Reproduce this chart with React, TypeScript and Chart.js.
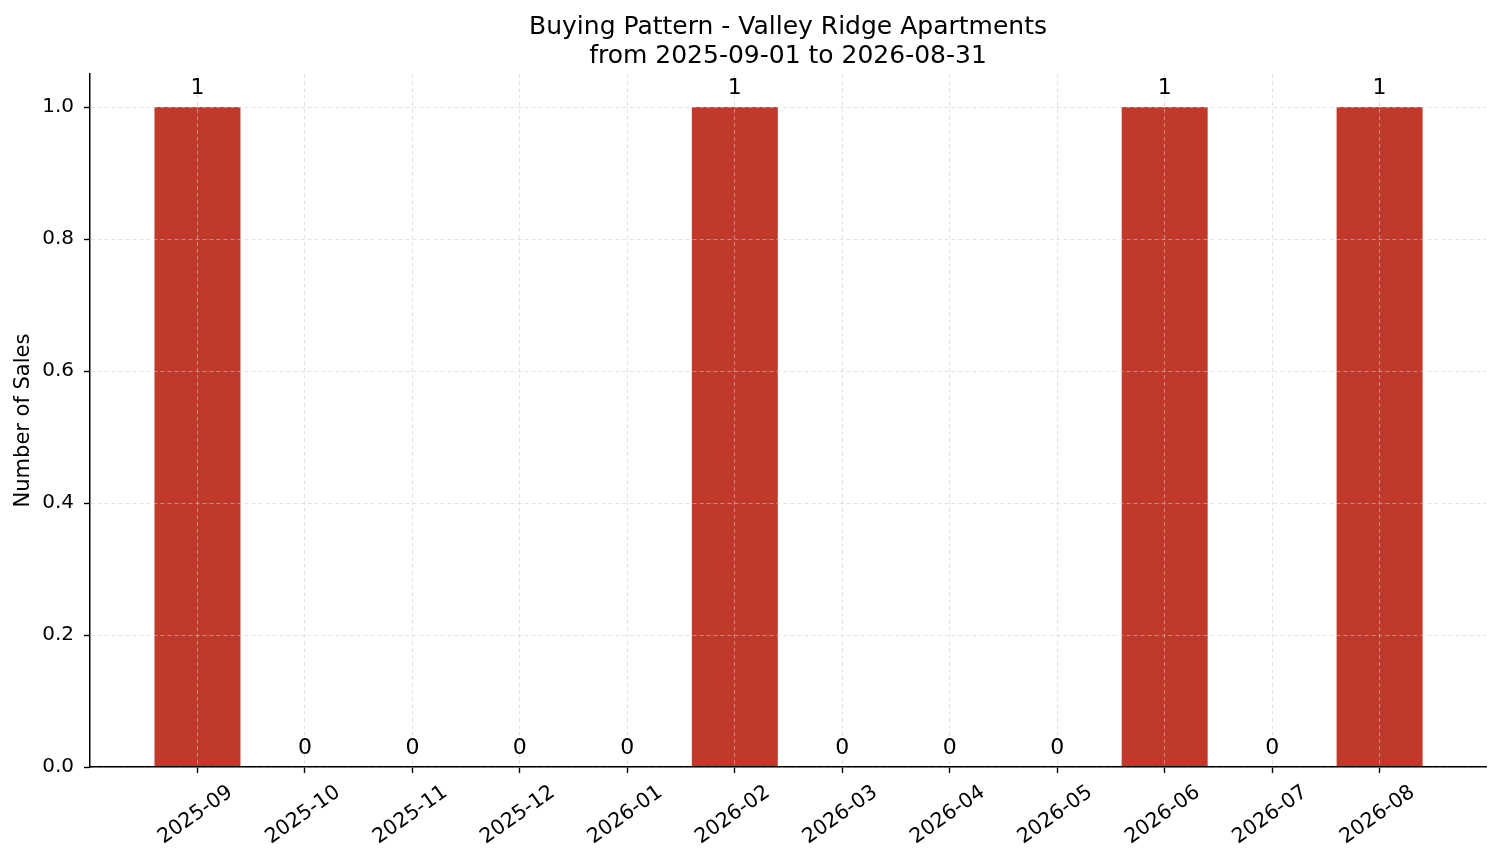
import React, { useEffect, useRef } from 'react'
import { Chart, registerables } from 'chart.js'

Chart.register(...registerables)

// chart data
const months = [
    '2025-09', '2025-10', '2025-11', '2025-12', '2026-01', '2026-02',
    '2026-03', '2026-04', '2026-05', '2026-06', '2026-07', '2026-08',
]
const sales = [1, 0, 0, 0, 0, 1, 0, 0, 0, 1, 0, 1]
const yTicks = [0, 0.2, 0.4, 0.6, 0.8, 1.0]
const titleLines = ['Buying Pattern - Valley Ridge Apartments', 'from 2025-09-01 to 2026-08-31']
const yTitle = 'Number of Sales'

const FONT = '"DejaVu Sans", sans-serif'
const BAR_COLOR = '#c0392b'
const GRID_COLOR = 'rgba(204, 204, 204, 0.7)'

// title centred over the plot, value labels above the bars, rotated month labels
const labelPlugin = {
    id: 'barAndMonthLabels',
    afterDraw(chart: any) {
        const ctx = chart.ctx
        const xScale = chart.scales.x
        const area = chart.chartArea
        ctx.save()
        ctx.fillStyle = '#000'

        ctx.font = `25px ${FONT}`
        ctx.textAlign = 'center'
        ctx.textBaseline = 'alphabetic'
        const cx = (area.left + area.right) / 2
        titleLines.forEach((line, i) => {
            ctx.fillText(line, cx, 34.3 + i * 28.4)
        })

        ctx.font = `22px ${FONT}`
        const meta = chart.getDatasetMeta(0)
        meta.data.forEach((bar: any, i: number) => {
            ctx.fillText(String(sales[i]), bar.x, bar.y - 13.3)
        })

        ctx.font = `20.5px ${FONT}`
        months.forEach((m, i) => {
            const px = xScale.getPixelForValue(i)
            ctx.save()
            ctx.translate(px - 2, xScale.top + 48)
            ctx.rotate((-35 * Math.PI) / 180)
            ctx.textAlign = 'center'
            ctx.textBaseline = 'middle'
            ctx.fillText(m, 0, 0)
            ctx.restore()
        })
        ctx.restore()
    },
}

const BuyingPatternChart: React.FC = () => {
    const canvasRef = useRef<HTMLCanvasElement | null>(null)

    useEffect(() => {
        const ctx = canvasRef.current?.getContext('2d')
        if (!ctx) return

        Chart.defaults.font.family = FONT

        const chart = new Chart(ctx, {
            type: 'bar',
            data: {
                datasets: [
                    {
                        data: months.map((_, i) => ({ x: i, y: sales[i] })),
                        backgroundColor: BAR_COLOR,
                        borderWidth: 0,
                        barPercentage: 0.8,
                        categoryPercentage: 1.0,
                    },
                ],
            },
            plugins: [labelPlugin],
            options: {
                animation: false,
                responsive: true,
                maintainAspectRatio: false,
                layout: { padding: { left: 0, right: 15, top: 74, bottom: 0 } },
                plugins: {
                    legend: { display: false },
                    tooltip: { enabled: false },
                    title: { display: false },
                },
                scales: {
                    x: {
                        type: 'linear',
                        min: -1.0,
                        max: 11.99,
                        offset: false,
                        afterBuildTicks: (scale: any) => {
                            scale.ticks = months.map((_, i) => ({ value: i }))
                        },
                        afterFit: (scale: any) => {
                            scale.height = 96
                        },
                        ticks: { display: false },
                        grid: {
                            z: 1,
                            offset: false,
                            color: GRID_COLOR,
                            lineWidth: 0.8,
                            tickColor: '#000',
                            tickWidth: 1.4,
                            tickLength: 6,
                            tickBorderDash: [],
                        },
                        border: { z: 2, display: true, color: '#000', width: 1.5, dash: [4, 3] },
                    },
                    y: {
                        type: 'linear',
                        min: 0,
                        max: 1.05,
                        afterBuildTicks: (scale: any) => {
                            scale.ticks = yTicks.map((v) => ({ value: v }))
                        },
                        afterFit: (scale: any) => {
                            scale.width = 90
                        },
                        ticks: {
                            color: '#000',
                            font: { family: FONT, size: 20 },
                            padding: 10,
                            callback: (value: any) => Number(value).toFixed(1),
                        },
                        title: {
                            display: true,
                            text: yTitle,
                            color: '#000',
                            font: { family: FONT, size: 21 },
                            padding: { top: 11, bottom: 0 },
                        },
                        grid: {
                            z: 1,
                            color: GRID_COLOR,
                            lineWidth: 0.8,
                            tickColor: '#000',
                            tickWidth: 1.4,
                            tickLength: 6,
                            tickBorderDash: [],
                        },
                        border: { z: 2, display: true, color: '#000', width: 1.5, dash: [4, 3] },
                    },
                },
            } as any,
        })

        return () => {
            chart.destroy()
        }
    }, [])

    return (
        <div style={{ position: 'fixed', left: 0, top: 0, width: 1501, height: 863, background: '#fff' }}>
            <canvas ref={canvasRef}></canvas>
        </div>
    )
}

export default function App() {
    return <BuyingPatternChart />
}
